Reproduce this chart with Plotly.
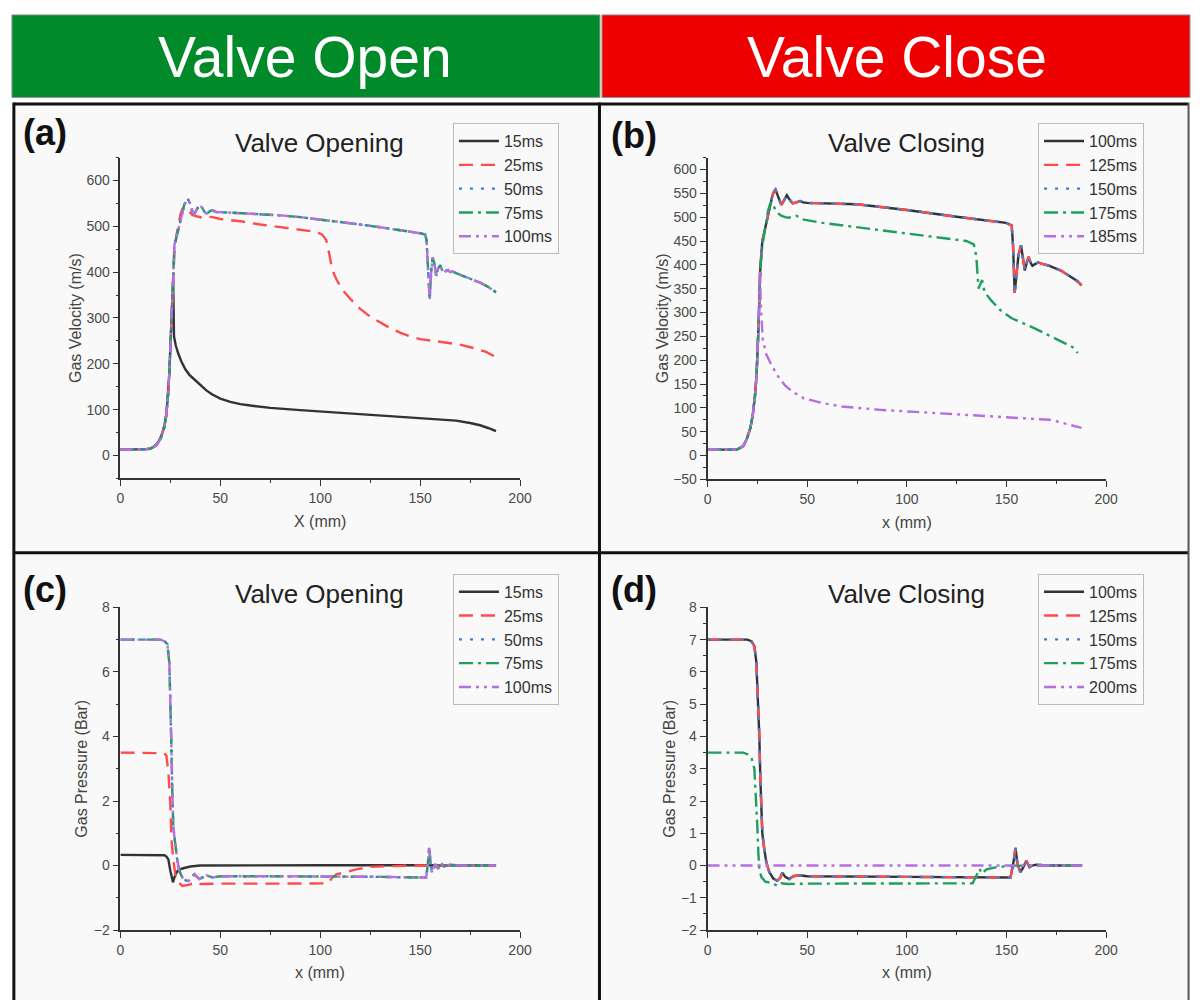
import plotly.graph_objects as go

W, H = 1203, 1008

# ---------------- DATA ----------------
# Panel (a): gas velocity, valve opening
A_X_15 = [0, 5, 10, 14, 16, 18, 19, 20, 21, 22, 23, 24, 24.5, 25, 25.5, 26, 26.4, 26.8, 27.7, 29, 30.5, 32.5,
          34.5, 36.5, 38.5, 40.5, 43, 46, 50, 55, 60, 65, 75, 90, 110, 130, 150, 160, 168, 175, 180, 184, 188]
A_V_15 = [13, 13, 13, 14, 17, 24, 30, 38, 50, 65, 90, 140, 180, 240, 300, 355, 385, 260, 240, 222, 205, 188,
          176, 168, 160, 152, 142, 133, 124, 117, 112, 109, 104, 99, 93, 87, 82, 79, 76, 71, 66, 60, 53]
A_X_25 = [0, 10, 15, 18, 20, 22, 23, 24, 25, 26, 27, 28, 29, 30, 31, 32, 34, 36, 38, 40, 42, 44, 46, 50, 60, 70,
          80, 90, 98, 101, 103, 104.5, 106, 108, 111, 115, 120, 125, 130, 135, 140, 145, 150, 160, 170, 178,
          183, 187]
A_V_25 = [13, 13, 15, 22, 35, 62, 90, 140, 230, 350, 440, 480, 505, 525, 538, 542, 535, 525, 522, 520, 518, 521,
          520, 516, 511, 504, 498, 493, 488, 482, 470, 440, 405, 385, 362, 342, 320, 303, 290, 278, 268, 260,
          254, 248, 242, 233, 226, 217]
A_X_50 = [0, 10, 15, 18, 20, 22, 23, 24, 25, 25.5, 26, 26.5, 27, 28, 29, 30, 31, 32, 33, 34, 35, 36, 37, 38, 39,
          40, 41, 42, 43, 44, 45, 46, 47, 48, 50, 60, 70, 80, 90, 100, 110, 120, 130, 140, 150, 152.5, 153.2,
          153.8, 154.3, 154.8, 155.5, 156.3, 157.2, 158, 159, 160, 161, 162, 163, 164, 165, 166, 168, 170, 173,
          176, 180, 184, 188]
A_V_50 = [13, 13, 15, 22, 35, 62, 90, 140, 230, 300, 370, 430, 460, 475, 495, 515, 535, 548, 555, 558, 548, 532,
          527, 535, 543, 545, 540, 532, 528, 530, 534, 535, 533, 531, 531, 529, 527, 524, 520, 515, 510, 504,
          498, 492, 485, 482, 470, 420, 360, 340, 400, 432, 418, 392, 408, 415, 405, 398, 403, 405, 400, 402,
          398, 394, 389, 384, 377, 368, 356]

# Panel (b): gas velocity, valve closing
B_X_100 = [0, 10, 15, 18, 19.9, 21.5, 22.7, 23.8, 24.6, 25.6, 26.5, 27.5, 28.5, 29.4, 30.5, 31.3, 32.6, 33.5,
           34.1, 35, 36, 37, 38, 39, 39.8, 41, 42.7, 44.5, 46.4, 48, 50, 75, 100, 125, 149.8, 152.6, 153.3,
           154.1, 155, 156, 157.3, 158.2, 159.2, 160.2, 161.1, 162, 163, 164.5, 165.9, 168, 171.6, 177.3,
           182.9, 185.5, 187.7]
B_V_100 = [12, 12, 13, 20, 37, 58, 85, 125, 168, 271, 395, 450, 470, 484, 508, 526, 546, 555, 558, 548, 535, 526,
           532, 542, 546, 538, 529, 531, 534, 531, 530, 527, 515, 501, 488, 483, 440, 341, 380, 420, 441, 412,
           388, 405, 417, 405, 398, 402, 405, 402, 398, 388, 374, 366, 357]
B_X_175 = [0, 10, 15, 18, 19.9, 21.5, 22.7, 23.8, 24.6, 25.6, 26.5, 27.5, 28.5, 29.4, 30.3, 31.2, 32, 33,
           34.1, 35.5, 37, 39, 40.8, 42.5, 44.5, 46.5, 48.3, 57.8, 76.8, 95.7, 114.7, 129.9, 133.6, 134.4, 135,
           135.5, 136, 136.9, 137.8, 139, 142.2, 146.9, 152.6, 162, 171.6, 179.1, 183, 185.8]
B_V_175 = [12, 12, 13, 20, 37, 58, 85, 125, 168, 271, 390, 440, 465, 490, 512, 525, 532, 525, 515, 508, 503, 500,
           499, 501, 503, 499, 495, 488, 478, 468, 459, 450, 443, 430, 409, 380, 350, 360, 368, 343, 326, 305,
           288, 271, 251, 237, 228, 215]
B_X_185 = [0, 10, 15, 18, 19.9, 21.5, 22.7, 23.8, 24.6, 25.6, 26.2, 26.9, 27.7, 29.4, 32.2, 35.1, 38.9, 42.7,
           48.3, 57.8, 67.3, 86.2, 105.2, 124.2, 143.1, 162, 171.6, 175, 179.1, 183, 187.7]
B_V_185 = [12, 12, 13, 20, 37, 58, 85, 125, 168, 271, 388, 305, 244, 213, 189, 168, 147, 134, 120, 110, 103, 96,
           91, 86, 81, 77, 75, 72, 68, 63, 58]

# Panel (c): gas pressure, valve opening
C_X_15 = [0, 10, 20, 22, 23, 24, 25, 25.7, 26.3, 27, 28.5, 31, 35, 40, 60, 100, 150, 188]
C_P_15 = [0.33, 0.33, 0.33, 0.32, 0.28, 0.19, -0.17, -0.4, -0.52, -0.37, -0.17, -0.09, -0.03, 0.0, 0.01, 0.01,
          0.01, 0.0]
C_X_25 = [0, 10, 20, 22, 23, 24, 25, 25.5, 26.5, 27.5, 29, 31, 34, 36, 38, 40, 50, 75, 100, 104, 106, 108, 112,
          118, 125, 135, 145, 188]
C_P_25 = [3.5, 3.5, 3.5, 3.48, 3.4, 2.9, 1.87, 0.85, 0.14, -0.27, -0.52, -0.63, -0.6, -0.56, -0.52, -0.57, -0.56,
          -0.56, -0.56, -0.55, -0.37, -0.27, -0.22, -0.12, -0.04, -0.01, 0.0, 0.0]
C_X_50 = [0, 10, 20, 22, 23.5, 24.5, 25, 25.5, 26, 26.5, 27.5, 28.5, 29.5, 31, 33, 34, 35, 37, 39.5, 43, 46, 50,
          75, 100, 130, 150, 153, 153.8, 154.5, 155.3, 156, 157.5, 159, 160.5, 162, 165, 170, 188]
C_P_50 = [7.0, 7.0, 7.0, 6.95, 6.86, 6.25, 5.2, 3.7, 2.17, 1.16, 0.65, 0.14, -0.17, -0.37, -0.47, -0.48, -0.42,
          -0.27, -0.42, -0.3, -0.37, -0.33, -0.33, -0.33, -0.35, -0.37, -0.37, 0.0, 0.55, 0.04, -0.22, 0.04,
          -0.1, 0.09, -0.03, 0.03, 0.0, 0.0]

# Panel (d): gas pressure, valve closing
D_X_100 = [0, 10, 20, 22, 23.5, 24.5, 25.5, 26, 26.5, 27, 27.5, 28.5, 29.5, 31, 33, 35, 36.5, 37.5, 39, 41, 43,
           46, 50, 100, 140, 152, 153.5, 154.5, 155.5, 157, 158.5, 160, 161.5, 163, 165, 170, 188]
D_P_100 = [7.0, 7.0, 7.0, 6.95, 6.8, 6.3, 5.0, 4.0, 2.7, 1.7, 1.0, 0.5, 0.1, -0.2, -0.4, -0.47, -0.38, -0.22,
           -0.35, -0.42, -0.33, -0.3, -0.33, -0.35, -0.36, -0.37, 0.1, 0.55, 0.05, -0.2, -0.05, 0.15, -0.05,
           0.0, 0.03, 0.0, 0.0]
D_X_175 = [0, 10, 18, 20, 22, 23.5, 24.5, 25, 25.5, 26, 27, 29, 33, 35, 37, 40, 50, 100, 130, 133, 135, 136.5,
           137.5, 140, 145, 150, 160, 188]
D_P_175 = [3.5, 3.5, 3.5, 3.45, 3.35, 3.0, 2.0, 1.2, 0.4, -0.1, -0.35, -0.5, -0.55, -0.63, -0.55, -0.57, -0.56,
           -0.56, -0.56, -0.55, -0.3, -0.1, -0.25, -0.12, -0.05, -0.02, 0.0, 0.0]
D_X_200 = [0, 50, 100, 150, 188]
D_P_200 = [0.0, 0.0, 0.0, 0.0, 0.0]

LABELS_OPEN = ["15ms", "25ms", "50ms", "75ms", "100ms"]
LABELS_CLOSE_V = ["100ms", "125ms", "150ms", "175ms", "185ms"]
LABELS_CLOSE_P = ["100ms", "125ms", "150ms", "175ms", "200ms"]

# ---------------- STYLE ----------------
STYLES = [
    dict(color="#333333", dash="solid"),
    dict(color="#FF4B4B", dash="14px,8px"),
    dict(color="#3A7FD5", dash="3px,8px"),
    dict(color="#1F9E5F", dash="14px,5px,3px,5px"),
    dict(color="#B66FE0", dash="12px,5px,3px,5px,3px,5px"),
]
FONT = "Arial, Liberation Sans, sans-serif"


def fx(p):
    return p / W


def fy(p):
    return 1 - p / H


fig = go.Figure()

panels = [
    ("", [(A_X_15, A_V_15), (A_X_25, A_V_25), (A_X_50, A_V_50), (A_X_50, A_V_50), (A_X_50, A_V_50)],
     LABELS_OPEN, (118, 523), (152, 478), [-50, 650], 100, 50),
    ("2", [(B_X_100, B_V_100), (B_X_100, B_V_100), (B_X_100, B_V_100), (B_X_175, B_V_175), (B_X_185, B_V_185)],
     LABELS_CLOSE_V, (713, 1117), (152, 479), [-50, 625], 50, 25),
    ("3", [(C_X_15, C_P_15), (C_X_25, C_P_25), (C_X_50, C_P_50), (C_X_50, C_P_50), (C_X_50, C_P_50)],
     LABELS_OPEN, (118, 523), (609, 937), [-2, 8], 2, 1),
    ("4", [(D_X_100, D_P_100), (D_X_100, D_P_100), (D_X_100, D_P_100), (D_X_175, D_P_175), (D_X_200, D_P_200)],
     LABELS_CLOSE_P, (713, 1117), (609, 937), [-2, 8], 1, 0.5),
]

legend_pos = [(455, 117), (1048, 117), (455, 575), (1048, 575)]

layout_axes = {}
for i, (suf, data, labels, xp, yp, yr, ydt, ymin) in enumerate(panels):
    leg = "legend" + suf
    for (xs, ys), lab, st in zip(data, labels, STYLES):
        fig.add_trace(go.Scatter(
            x=xs, y=ys, mode="lines", name=lab,
            line=dict(color=st["color"], dash=st["dash"], width=2.4),
            xaxis="x" + suf, yaxis="y" + suf, legend=leg, showlegend=True,
        ))
    common = dict(showline=True, linecolor="#333333", linewidth=1.6, ticks="outside", ticklen=6,
                  tickwidth=1.3, tickcolor="#333333", showgrid=False, zeroline=False,
                  tickfont=dict(family=FONT, size=14, color="#4a4a4a"))
    layout_axes["xaxis" + suf] = dict(
        domain=[fx(xp[0]), fx(xp[1])], anchor="y" + suf, range=[0, 200], dtick=50, tick0=0,
        minor=dict(ticks="outside", ticklen=3, dtick=25, tickcolor="#333333"), **common)
    layout_axes["yaxis" + suf] = dict(
        domain=[fy(yp[1]), fy(yp[0])], anchor="x" + suf, range=yr, dtick=ydt, tick0=0,
        minor=dict(ticks="outside", ticklen=3, dtick=ymin, tickcolor="#333333"), **common)
    lx, ly = legend_pos[i]
    layout_axes[leg] = dict(x=fx(lx), y=fy(ly), xanchor="left", yanchor="top",
                            bgcolor="#f9f9f9", bordercolor="#bbbbbb", borderwidth=1,
                            font=dict(family=FONT, size=16, color="#333333"),
                            itemwidth=40, tracegroupgap=0)

shapes = []
shapes.append(dict(type="rect", xref="paper", yref="paper", x0=fx(8), x1=fx(604), y0=fy(91), y1=fy(7),
                   fillcolor="#008A2A", line=dict(color="#999999", width=1), layer="below"))
shapes.append(dict(type="rect", xref="paper", yref="paper", x0=fx(606), x1=fx(1202), y0=fy(91), y1=fy(7),
                   fillcolor="#EE0000", line=dict(color="#999999", width=1), layer="below"))
for (x0, x1, y0, y1) in [(10, 603, 97, 553), (603, 1200, 97, 553), (10, 603, 553, 1008), (603, 1200, 553, 1008)]:
    shapes.append(dict(type="rect", xref="paper", yref="paper", x0=fx(x0), x1=fx(x1), y0=fy(y1), y1=fy(y0),
                       fillcolor="#f9f9f9", line=dict(width=0), layer="below"))
for (x0, y0, x1, y1, c, w) in [(10, 97.5, 1200, 97.5, "#111111", 3), (10, 553.5, 1200, 553.5, "#111111", 3),
                               (10, 96, 10, 1008, "#111111", 3), (603.5, 96, 603.5, 1008, "#111111", 3),
                               (1200.5, 96, 1200.5, 1008, "#555555", 2)]:
    shapes.append(dict(type="line", xref="paper", yref="paper", x0=fx(x0), x1=fx(x1), y0=fy(y0), y1=fy(y1),
                       line=dict(color=c, width=w)))

ann = []
ann.append(dict(text="Valve Open", x=fx(305), y=fy(50), xref="paper", yref="paper", showarrow=False,
                font=dict(family=FONT, size=57, color="white"), xanchor="center", yanchor="middle"))
ann.append(dict(text="Valve Close", x=fx(905), y=fy(50), xref="paper", yref="paper", showarrow=False,
                font=dict(family=FONT, size=57, color="white"), xanchor="center", yanchor="middle"))
for lab, x, y in [("(a)", 17, 126), ("(b)", 613, 130), ("(c)", 17, 591), ("(d)", 613, 591)]:
    ann.append(dict(text="<b>" + lab + "</b>", x=fx(x), y=fy(y), xref="paper", yref="paper", showarrow=False,
                    font=dict(family=FONT, size=36, color="#111111"), xanchor="left", yanchor="middle"))
for t, x, y in [("Valve Opening", 320, 137), ("Valve Closing", 915, 137), ("Valve Opening", 320, 595),
                ("Valve Closing", 915, 595)]:
    ann.append(dict(text=t, x=fx(x), y=fy(y), xref="paper", yref="paper", showarrow=False,
                    font=dict(family=FONT, size=26, color="#222222"), xanchor="center", yanchor="middle"))
for t, x, y in [("Gas Velocity (m/s)", 72, 315), ("Gas Velocity (m/s)", 667, 315),
                ("Gas Pressure (Bar)", 79, 773), ("Gas Pressure (Bar)", 675, 773)]:
    ann.append(dict(text=t, x=fx(x), y=fy(y), xref="paper", yref="paper", showarrow=False, textangle=-90,
                    font=dict(family=FONT, size=16, color="#444444"), xanchor="center", yanchor="middle"))
for t, x, y in [("X (mm)", 320, 522), ("x (mm)", 915, 523), ("x (mm)", 320, 980), ("x (mm)", 915, 980)]:
    ann.append(dict(text=t, x=fx(x), y=fy(y), xref="paper", yref="paper", showarrow=False,
                    font=dict(family=FONT, size=16, color="#444444"), xanchor="center", yanchor="middle"))

fig.update_layout(
    width=W, height=H, autosize=False, margin=dict(l=0, r=0, t=0, b=0),
    paper_bgcolor="white", plot_bgcolor="rgba(0,0,0,0)",
    shapes=shapes, annotations=ann, font=dict(family=FONT), **layout_axes,
)

fig.write_html("out.html")
